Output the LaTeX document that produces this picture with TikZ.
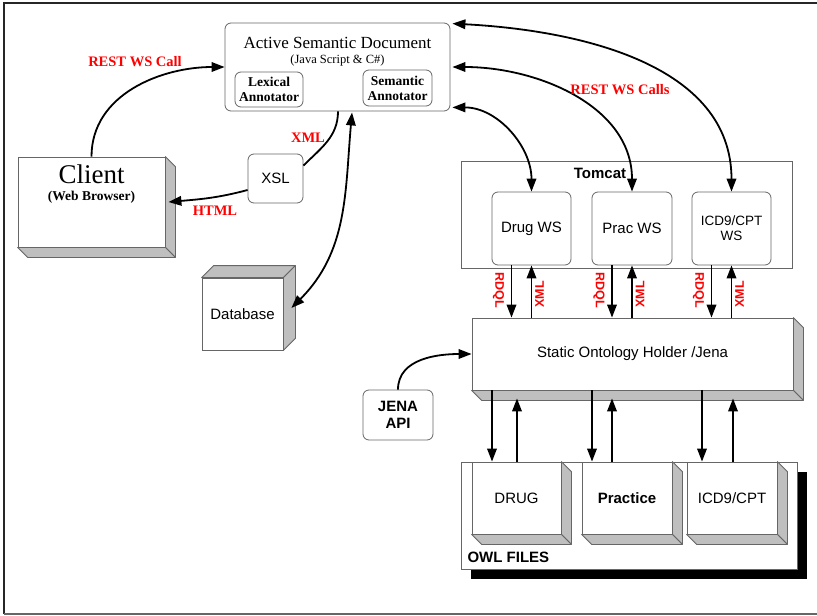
\documentclass[tikz,border=0pt]{standalone}
\usepackage{fontspec}
\setmainfont{Liberation Serif}
\setsansfont{Liberation Sans}
\usetikzlibrary{arrows.meta,shadows}

\tikzset{
  box/.style={draw=black!60, line width=0.8pt, fill=white, align=center, inner sep=2pt,
    font=\sffamily\fontsize{15}{16.5}\selectfont},
  rbox/.style={box, rounded corners=6pt},
  face/.style={draw=black!60, line width=0.8pt, fill=black!25, line join=round},
  link/.style={line width=1.8pt, -{Triangle[length=13pt,width=9.5pt]}},
  dlink/.style={line width=1.8pt, {Triangle[length=13pt,width=9.5pt]}-{Triangle[length=13pt,width=9.5pt]}},
  wire/.style={line width=1.8pt},
  redlbl/.style={text=red, font=\rmfamily\bfseries\fontsize{14.5}{16}\selectfont},
  vlbl/.style={text=red, font=\sffamily\bfseries\fontsize{12.5}{12.5}\selectfont},
}

\begin{document}
\begin{tikzpicture}[x=1pt,y=1pt]
            \useasboundingbox (0,0) rectangle (817,-616);

            % Frame
            \draw[line width=1.6pt, black!85] (817,-3) -- (4,-3) -- (4,-614);
            \draw[line width=1.2pt, black!60] (4,-614) -- (817,-614);

            % Active semantic document
            \node[rbox, minimum width=225pt, minimum height=88pt] (asd) at (337.5,-67) {};
            \node[inner sep=0pt, font=\rmfamily\fontsize{17}{19}\selectfont] (asdtitle) at (337.5,-43) {Active Semantic Document};
            \node[inner sep=0pt, font=\rmfamily\fontsize{12.5}{13.5}\selectfont] (asdsub) at (337.5,-60) {(Java Script \& C\#)};
            \node[rbox, font=\rmfamily\bfseries\fontsize{13.5}{15}\selectfont,
              minimum width=68pt, minimum height=35pt, inner sep=1pt] (lex) at (269,-89.5) {Lexical\\Annotator};
            \node[rbox, font=\rmfamily\bfseries\fontsize{13.5}{15}\selectfont,
              minimum width=69pt, minimum height=36pt, inner sep=1pt] (sem) at (397.5,-88) {Semantic\\Annotator};

            % Client, XSL, database
            \node[box, minimum width=147pt, minimum height=90pt] (client) at (91.5,-202) {};
            \node[inner sep=0pt, font=\rmfamily\fontsize{27}{29}\selectfont] (clienttxt) at (91.5,-174) {Client};
            \node[inner sep=0pt, font=\rmfamily\bfseries\fontsize{13.5}{15}\selectfont] (clientsub) at (91.5,-197) {(Web Browser)};
            \node[rbox, minimum width=55pt, minimum height=49pt] (xsl) at (275.5,-178.5) {XSL};
            \node[box, minimum width=81pt, minimum height=72pt] (db) at (242.5,-314) {Database};

            % Tomcat
            \node[box, minimum width=331pt, minimum height=107pt] (tomcat) at (626.5,-214.5) {};
            \node[font=\sffamily\bfseries\fontsize{15}{16.5}\selectfont] (tomcattxt) at (600,-173) {Tomcat};
            \node[rbox, minimum width=79pt, minimum height=73pt] (drugws) at (531.5,-228.5) {Drug WS};
            \node[rbox, minimum width=80pt, minimum height=73pt] (pracws) at (632,-228.5) {Prac WS};
            \node[rbox, minimum width=79pt, minimum height=73pt,
              font=\sffamily\fontsize{13.5}{15}\selectfont] (icdws) at (731.5,-228.5) {ICD9/CPT\\WS};

            % Ontology holder and Jena
            \node[box, minimum width=321pt, minimum height=72pt] (onto) at (632.5,-354) {Static Ontology Holder /Jena};
            \node[rbox, font=\sffamily\bfseries\fontsize{15}{16.5}\selectfont,
              minimum width=70pt, minimum height=50pt] (jena) at (398,-415) {JENA\\API};

            % OWL files
            \node[box, minimum width=336pt, minimum height=107pt,
              drop shadow={fill=black, opacity=1, shadow xshift=10pt, shadow yshift=-10pt}] (owl) at (629,-515.5) {};
            \node[font=\sffamily\bfseries\fontsize{15}{16.5}\selectfont, anchor=west] (owltxt) at (464,-557) {OWL FILES};
            \node[box, minimum width=89pt, minimum height=72pt] (drug) at (516.5,-498) {DRUG};
            \node[box, minimum width=90pt, minimum height=72pt,
              font=\sffamily\bfseries\fontsize{15}{16.5}\selectfont] (prac) at (627,-498) {Practice};
            \node[box, minimum width=90pt, minimum height=72pt] (icd) at (732,-498) {ICD9/CPT};

            % 3D faces
            \foreach \n/\d in {client/10,onto/10,drug/10,prac/10,icd/10}{
            \draw[face] (\n.north east) -- ++(\d,-\d) -- ([shift={(\d,-\d)}]\n.south east) -- (\n.south east) -- cycle;
            \draw[face] (\n.south west) -- (\n.south east) -- ([shift={(\d,-\d)}]\n.south east) -- ([shift={(\d,-\d)}]\n.south west) -- cycle;
            }
            \draw[face] (db.north west) -- ++(12,12) -- ([shift={(12,12)}]db.north east) -- (db.north east) -- cycle;
            \draw[face] (db.north east) -- ++(12,12) -- ([shift={(12,12)}]db.south east) -- (db.south east) -- cycle;

            % Client side connectors
            \draw[link] (client.north) to[out=90,in=180] (asd.west);
            \node[redlbl] (restlbl) at (135,-62) {REST WS Call};
            \draw[wire] ([xshift=0.5pt]asd.south) to[out=-90,in=45] ([yshift=-12pt]xsl.north east);
            \node[redlbl] (xmllbl) at (308,-138) {XML};
            \draw[link] ([yshift=-11.5pt]xsl.west) to[out=195,in=5] ([xshift=3pt]client.east);
            \node[redlbl] (htmllbl) at (215,-211) {HTML};
            \draw[dlink] ([xshift=8pt,yshift=6pt]db.east) to[out=45,in=-95] ([xshift=14.5pt,yshift=-1pt]asd.south);

            % Web service calls
            \draw[dlink] ([xshift=2pt,yshift=-1pt]asd.north east) to[out=-3,in=90] (icdws.north);
            \draw[dlink] ([xshift=2pt]asd.east) to[out=0,in=90] (pracws.north);
            \draw[dlink] ([xshift=2pt,yshift=4pt]asd.south east) to[out=0,in=90] (drugws.north);
            \node[redlbl] (callslbl) at (620,-90) {REST WS Calls};

            % Tomcat <-> ontology holder
            \foreach \w in {drugws,pracws,icdws}{
            \draw[link] ([xshift=-20pt]\w.south) -- ([xshift=-20pt]\w.south |- onto.north);
            \draw[link] (\w.south |- onto.north) -- (\w.south);
            \node[vlbl, rotate=-90] (\w-rdql) at ([xshift=-33pt,yshift=-25pt]\w.south) {RDQL};
            \node[vlbl, rotate=90] (\w-xml) at ([xshift=8pt,yshift=-29pt]\w.south) {XML};
            }

            % Ontology holder <-> OWL files
            \draw[link] (jena.north) to[out=90,in=180] (onto.west);
            \coordinate (ontobot) at ([yshift=-8pt]onto.south);
            \foreach \b/\dn/\up in {drug/492/517,prac/592/612,icd/702/733}{
            \draw[link] (\dn,0 |- onto.south) -- (\dn,0 |- \b.north);
            \draw[link] (\up,0 |- \b.north) -- (\up,0 |- ontobot);
            }
        \end{tikzpicture}
\end{document}
